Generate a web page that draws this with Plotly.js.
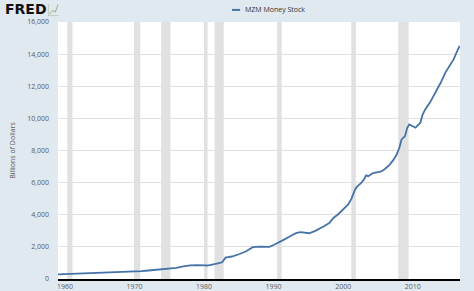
<!DOCTYPE html>
<html>
<head>
<meta charset="utf-8">
<script src="https://cdn.plot.ly/plotly-3.0.1.min.js"></script>
<style>
html,body{margin:0;padding:0;background:#e1e9f0;}
#chart{width:474px;height:291px;}
</style>
</head>
<body>
<div id="chart"></div>
<script>
// MZM Money Stock, billions of dollars
var years = [1959.0,1960.0,1961.0,1962.0,1963.0,1964.0,1965.0,1966.0,1967.0,1968.0,1969.0,1970.0,
  1971.0,1972.0,1973.0,1974.0,1975.0,1976.0,1977.0,1978.0,1979.0,1979.8,1980.2,1980.5,1981.0,1981.5,
  1982.0,1982.6,1982.9,1983.1,1984.0,1984.5,1985.0,1986.0,1986.6,1987.0,1988.0,1989.0,1989.4,1990.0,
  1990.8,1991.5,1992.5,1993.3,1993.9,1994.5,1995.1,1996.0,1996.6,1997.3,1998.0,1998.6,1999.2,2000.0,
  2000.7,2001.2,2001.7,2002.0,2002.6,2003.0,2003.3,2003.6,2004.3,2005.0,2005.5,2006.0,2006.7,2007.2,
  2007.7,2008.1,2008.4,2008.9,2009.2,2009.5,2009.9,2010.4,2010.8,2011.1,2011.4,2011.8,2012.5,2013.3,
  2014.0,2014.7,2015.3,2015.9,2016.3,2016.75];
var mzm = [286,300,315,335,355,375,395,410,425,440,450,460,
  490,530,570,600,620,690,780,850,870,880,850,840,900,940,
  980,1040,1200,1330,1400,1450,1540,1710,1900,1980,2010,2030,2000,2120,
  2270,2450,2690,2870,2915,2900,2850,3000,3125,3300,3480,3800,4000,4350,
  4625,5000,5560,5750,5980,6200,6450,6400,6600,6650,6700,6850,7120,7400,
  7750,8200,8690,8900,9400,9625,9550,9420,9600,9730,10200,10560,11000,11600,
  12200,12850,13300,13690,14100,14520];
var seriesName = "MZM Money Stock";
var yTitle = "Billions of Dollars";
var xTicks = [1960,1970,1980,1990,2000,2010];
var yTicks = [0,2000,4000,6000,8000,10000,12000,14000,16000];
// NBER recessions (start, end)
var recStart = [1960.33,1969.92,1973.83,1980.0,1981.5,1990.5,2001.17,2007.92];
var recEnd   = [1961.08,1970.83,1975.17,1980.5,1982.83,1991.17,2001.83,2009.42];

var shapes = recStart.map(function(s,i){
  return {type:'rect', xref:'x', yref:'paper', x0:s, x1:recEnd[i], y0:0, y1:1,
          fillcolor:'#e1e1e1', line:{width:0}, layer:'below'};
});
// legend swatch
shapes.push({type:'line', xref:'paper', yref:'paper', x0:0.433, x1:0.453, y0:1.047, y1:1.047,
             line:{color:'#4572a7', width:2}});
// small logo icon next to FRED
shapes.push({type:'path', xref:'paper', yref:'paper',
  path:'M -0.022,1.03 L -0.013,1.045 L -0.007,1.038 L 0.000,1.068',
  line:{color:'#9ab08a', width:1}});
shapes.push({type:'path', xref:'paper', yref:'paper',
  path:'M -0.024,1.025 L -0.024,1.07 M -0.024,1.025 L 0.001,1.025',
  line:{color:'#b8c4b0', width:0.8}});

var trace = {x:years, y:mzm, type:'scatter', mode:'lines', name:seriesName,
  line:{color:'#4572a7', width:1.8}, hoverinfo:'x+y'};

var layout = {
  width:474, height:291,
  margin:{l:58, r:14, t:22, b:12},
  paper_bgcolor:'#e1e9f0', plot_bgcolor:'#ffffff',
  showlegend:false,
  font:{family:'Open Sans, sans-serif', size:7, color:'#595959'},
  xaxis:{range:[1959.0,2016.8], tickvals:xTicks, ticktext:xTicks.map(String),
    showgrid:false, zeroline:false, showline:true, linecolor:'#000000', linewidth:2,
    ticks:'', tickfont:{size:7, color:'#595959'}, automargin:false},
  yaxis:{range:[0,16000], tickvals:yTicks, tickformat:',d', showgrid:true, gridcolor:'#e0e0e0',
    gridwidth:1, zeroline:false, showline:false, ticks:'', ticklabelstandoff:8,
    tickfont:{size:7, color:'#595959'}, automargin:false,
    title:{text:yTitle, font:{size:7, color:'#595959'}, standoff:10}},
  shapes:shapes,
  annotations:[
    {xref:'paper', yref:'paper', x:0.460, y:1.047, xanchor:'left', yanchor:'middle',
     text:seriesName, showarrow:false, font:{size:7, color:'#333333', family:'Open Sans, sans-serif'}},
    {xref:'paper', yref:'paper', x:-0.138, y:1.049, xanchor:'left', yanchor:'middle',
     text:'<b>FRED</b>', showarrow:false,
     font:{size:14, color:'#111111', family:'DejaVu Sans, sans-serif'}}
  ]
};
Plotly.newPlot('chart', [trace], layout, {displayModeBar:false, staticPlot:true});
</script>
</body>
</html>
